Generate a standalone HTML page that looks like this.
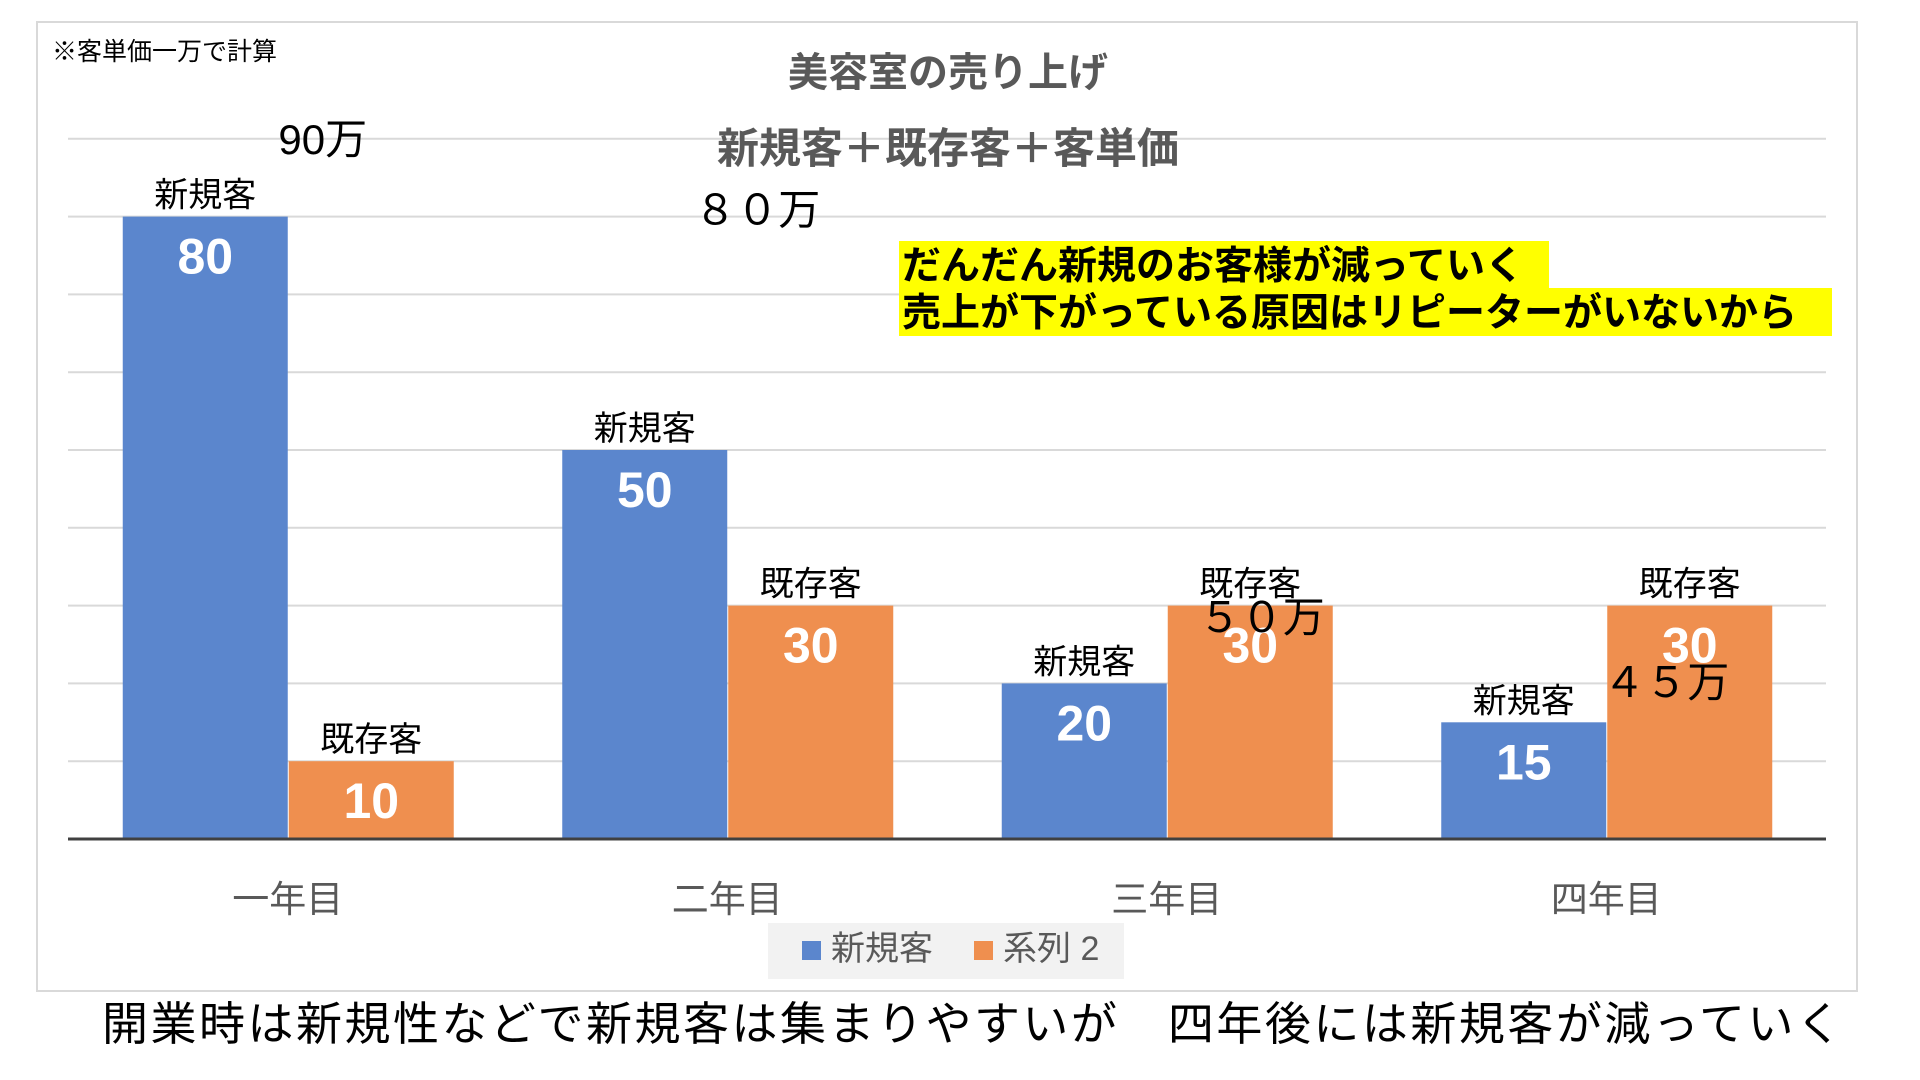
<!DOCTYPE html>
<html lang="ja"><head><meta charset="utf-8">
<style>
html,body{margin:0;padding:0;background:#fff;width:1920px;height:1080px;overflow:hidden}
svg{display:block}
text{font-family:"Liberation Sans","Noto Sans CJK JP",sans-serif}
</style></head>
<body>
<svg id="chart" width="1920" height="1080" viewBox="0 0 1920 1080" xmlns="http://www.w3.org/2000/svg">
  <rect x="37" y="22" width="1820" height="969" fill="#fff" stroke="#d9d9d9" stroke-width="2"/>
  <g id="grid"></g>
  <g id="bars"></g>
  <text x="52" y="60" font-size="25" fill="#000" font-family="Noto Sans CJK JP">※客単価一万で計算</text>
  <text x="948" y="86" font-size="40" font-weight="bold" fill="#595959" text-anchor="middle" font-family="Noto Sans CJK JP">美容室の売り上げ</text>
  <text x="948" y="163" font-size="42" font-weight="bold" fill="#595959" text-anchor="middle" font-family="Noto Sans CJK JP">新規客＋既存客＋客単価</text>
  <g>
    <rect x="899" y="241" width="650" height="47" fill="#ffff00"/>
    <rect x="899" y="288" width="933" height="48" fill="#ffff00"/>
    <text x="902" y="279" font-size="39" font-weight="bold" fill="#000" font-family="Noto Sans CJK JP">だんだん新規のお客様が減っていく</text>
    <text x="902" y="326" font-size="39" font-weight="bold" fill="#000" font-family="Noto Sans CJK JP">売上が下がっている原因はリピーターがいないから</text>
  </g>
  <g id="totals"></g>
  <g id="cats"></g>
  <g>
    <rect x="768" y="923" width="356" height="56" fill="#f2f2f2"/>
    <rect x="802" y="941" width="19" height="19" fill="#5b86cd"/>
    <text x="831" y="960" font-size="34" fill="#595959" font-family="Noto Sans CJK JP">新規客</text>
    <rect x="974" y="941" width="19" height="19" fill="#ef8f4f"/>
    <text x="1003" y="960" font-size="34" fill="#595959" font-family="Noto Sans CJK JP">系列 2</text>
  </g>
  <text x="102" y="1040" font-size="46" fill="#000" textLength="1740" font-family="Noto Sans CJK JP">開業時は新規性などで新規客は集まりやすいが　四年後には新規客が減っていく</text>
</svg>
<script>
const categories = ["一年目","二年目","三年目","四年目"];
const newCustomers = [80, 50, 20, 15];
const existingCustomers = [10, 30, 30, 30];
const totalLabels = ["90万","８０万","５０万","４５万"];
const totalValues = [90, 80, 50, 45];
const gridTicks = [10,20,30,40,50,60,70,80,90];

const NS = "http://www.w3.org/2000/svg";
const plotL = 68, plotR = 1826, y0 = 839, unit = 7.78;
const catW = (plotR - plotL) / categories.length;
const barW = 165;
function yScale(v){ return y0 - v * unit; }
function catCenter(i){ return plotL + catW * (i + 0.5); }
function mk(tag, attrs, parent, txt){
  const e = document.createElementNS(NS, tag);
  for (const k in attrs) e.setAttribute(k, attrs[k]);
  if (txt !== undefined) e.textContent = txt;
  parent.appendChild(e);
  return e;
}
const grid = document.getElementById("grid");
gridTicks.forEach(t => {
  const l = mk("line", {x1:plotL, x2:plotR, y1:yScale(t), y2:yScale(t), stroke:"#d9d9d9", "stroke-width":2}, grid);
  
  
});
const bars = document.getElementById("bars");
function drawBar(i, v, x, color, name, series){
  const top = yScale(v);
  const r = mk("rect", {x:x, y:top, width:barW, height:y0 - top, fill:color}, bars);
  
  
  const vl = mk("text", {x:x + barW/2, y:top + 57, "font-size":50, "font-weight":"bold", fill:"#fff", "text-anchor":"middle", "font-family":"Noto Sans CJK JP"}, bars, String(v));
  
  
  const nl = mk("text", {x:x + barW/2, y:top - 10, "font-size":34, fill:"#000", "text-anchor":"middle", "font-family":"Noto Sans CJK JP"}, bars, name);
  
  
}
categories.forEach((c, i) => {
  const cx = catCenter(i);
  drawBar(i, newCustomers[i], cx - barW, "#5b86cd", "新規客", "new");
  drawBar(i, existingCustomers[i], cx + 1, "#ef8f4f", "既存客", "existing");
});
const base = mk("line", {x1:plotL, x2:plotR, y1:y0, y2:y0, stroke:"#404040", "stroke-width":3}, bars);


const cats = document.getElementById("cats");
categories.forEach((c, i) => {
  const t = mk("text", {x:catCenter(i), y:912, "font-size":37, fill:"#595959", "text-anchor":"middle", "font-family":"Noto Sans CJK JP"}, cats, c);
  
  
});
const totals = document.getElementById("totals");
const totalOffsets = [-28, 22, 72, 0];
totalLabels.forEach((s, i) => {
  const yTop = Math.max(newCustomers[i], existingCustomers[i]);
  const t = mk("text", {x:catCenter(i) + [35, 30, 95, 60][i], y:yScale(totalValues[i]) + [15, 8, 182, 208][i], "font-size":42, fill:"#000", "text-anchor":"middle", "font-family":"Noto Sans CJK JP"}, totals, s);
  
  
});
</script>
</body></html>
